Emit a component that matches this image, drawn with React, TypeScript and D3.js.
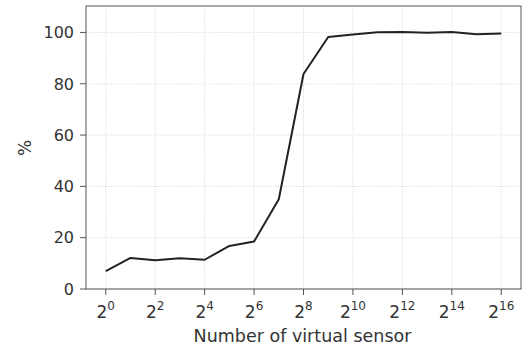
import React from "react";
import * as d3 from "d3";

const exponents = [0, 1, 2, 3, 4, 5, 6, 7, 8, 9, 10, 11, 12, 13, 14, 15, 16];
const percent = [7.0, 12.1, 11.2, 12.0, 11.4, 16.8, 18.5, 35.0, 83.8, 98.2, 99.2, 100.1, 100.2, 99.9, 100.2, 99.3, 99.6];
const xTicks = [0, 2, 4, 6, 8, 10, 12, 14, 16];
const yTicks = [0, 20, 40, 60, 80, 100];

const width = 523;
const height = 349;
const left = 86;
const right = 521;
const top = 6;
const bottom = 289;
const font = "DejaVu Sans, sans-serif";

const App = () => {
  const xScale = d3.scaleLinear().domain([-0.8, 16.8]).range([left, right]);
  const yScale = d3.scaleLinear().domain([0, 110.3]).range([bottom, top]);
  const line = d3
    .line<number>()
    .x((d, i) => xScale(exponents[i]))
    .y(d => yScale(d));

  return (
    <svg
      width={width}
      height={height}
      style={{ position: "absolute", left: 0, top: 0, background: "#fff" }}
    >
      {xTicks.map(t => (
        <line
          key={"gx" + t}
          x1={xScale(t)}
          x2={xScale(t)}
          y1={top}
          y2={bottom}
          stroke="#cccccc"
          strokeWidth={0.8}
          strokeDasharray="1,1.5"
        />
      ))}
      {yTicks.map(t => (
        <line
          key={"gy" + t}
          x1={left}
          x2={right}
          y1={yScale(t)}
          y2={yScale(t)}
          stroke="#cccccc"
          strokeWidth={0.8}
          strokeDasharray="1,1.5"
        />
      ))}
      <path
        d={line(percent) || ""}
        fill="none"
        stroke="#222222"
        strokeWidth={2}
        strokeLinejoin="round"
      />
      <rect
        x={left}
        y={top}
        width={right - left}
        height={bottom - top}
        fill="none"
        stroke="#555555"
        strokeWidth={1}
      />
      {yTicks.map(t => (
        <g key={"ty" + t}>
          <line x1={left - 6} x2={left} y1={yScale(t)} y2={yScale(t)} stroke="#555555" />
          <text
            x={left - 12}
            y={yScale(t)}
            dy="0.36em"
            textAnchor="end"
            fontFamily={font}
            fontSize={16}
            fill="#333333"
          >
            {t}
          </text>
        </g>
      ))}
      {xTicks.map(t => (
        <g key={"tx" + t}>
          <line x1={xScale(t)} x2={xScale(t)} y1={bottom} y2={bottom + 6} stroke="#555555" />
          <text
            x={xScale(t)}
            y={bottom + 29}
            textAnchor="middle"
            fontFamily={font}
            fontSize={17}
            fill="#333333"
          >
            2
            <tspan dy={-8} fontSize={12}>
              {t}
            </tspan>
          </text>
        </g>
      ))}
      <text
        x={(left + right) / 2 - 1}
        y={bottom + 53}
        textAnchor="middle"
        fontFamily={font}
        fontSize={17.5}
        fill="#333333"
      >
        Number of virtual sensor
      </text>
      <text
        transform={`translate(31,148) rotate(-90)`}
        textAnchor="middle"
        fontFamily={font}
        fontSize={17}
        fill="#333333"
      >
        %
      </text>
    </svg>
  );
};

export default App;
